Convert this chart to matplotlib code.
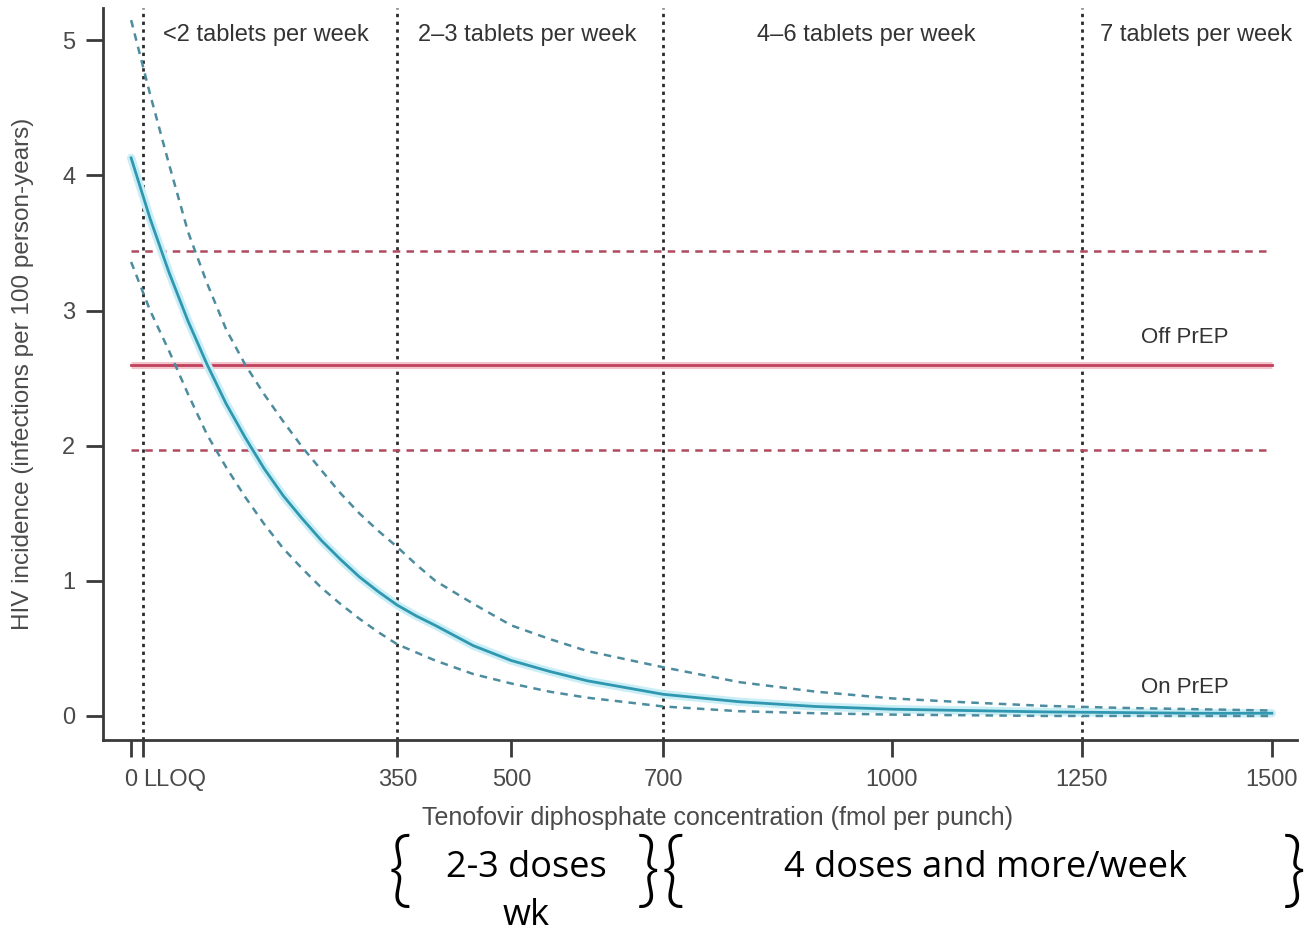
import matplotlib
matplotlib.use("Agg")
import matplotlib.pyplot as plt

# ---------------- data ----------------
conc = [0, 25, 50, 75, 100, 125, 150, 175, 200, 225, 250, 275, 300, 325, 350,
        375, 400, 450, 500, 550, 600, 700, 800, 900, 1000, 1100, 1200, 1300,
        1400, 1500]
on_prep = [4.13, 3.68, 3.28, 2.92, 2.60, 2.31, 2.06, 1.83, 1.63, 1.46, 1.30,
           1.16, 1.03, 0.92, 0.82, 0.74, 0.67, 0.52, 0.41, 0.33, 0.26, 0.16,
           0.105, 0.07, 0.05, 0.04, 0.03, 0.025, 0.02, 0.02]
on_prep_upper = [5.15, 4.60, 4.08, 3.58, 3.20, 2.86, 2.60, 2.38, 2.18, 1.99,
                 1.82, 1.65, 1.50, 1.37, 1.25, 1.12, 1.00, 0.83, 0.67, 0.57,
                 0.48, 0.36, 0.25, 0.18, 0.13, 0.10, 0.075, 0.06, 0.05, 0.04]
on_prep_lower = [3.36, 3.00, 2.70, 2.38, 2.08, 1.84, 1.62, 1.42, 1.24, 1.09,
                 0.95, 0.83, 0.72, 0.62, 0.53, 0.47, 0.41, 0.31, 0.24, 0.18,
                 0.135, 0.07, 0.035, 0.02, 0.01, 0.005, 0.0, 0.0, 0.0, 0.0]

off_prep = 2.60
off_prep_ci = [1.97, 3.44]
off_range = [0, 1500]

lloq = 16
region_bounds = [lloq, 350, 700, 1250]
region_labels = ["<2 tablets per week", "2\u20133 tablets per week",
                 "4\u20136 tablets per week", "7 tablets per week"]
region_label_x = [42, 377, 823, 1274]

xtick_vals = [0, lloq, 350, 500, 700, 1000, 1250, 1500]
xtick_labels = ["0", "LLOQ", "350", "500", "700", "1000", "1250", "1500"]
ytick_vals = [0, 1, 2, 3, 4, 5]

xlabel = "Tenofovir diphosphate concentration (fmol per punch)"
ylabel = "HIV incidence (infections per 100 person-years)"

# ---------------- fonts ----------------
chart_font = ["Liberation Sans Narrow", "Liberation Sans", "DejaVu Sans"]
note_font = ["Open Sans", "DejaVu Sans"]
brace_font = ["Lato", "DejaVu Sans"]

# ---------------- figure ----------------
fig = plt.figure(figsize=(13.07, 9.36), dpi=100)
ax = fig.add_axes([0.0788, 0.2094, 0.9135, 0.7821])

ax.set_xlim(-37, 1533)
ax.set_ylim(-0.178, 5.24)

grey_txt = "#4a4a4a"
teal = "#2f97b0"
teal_ci = "#4d8c9e"
red = "#c2405c"
red_ci = "#b04a5e"

# vertical dotted lines
for xb in region_bounds:
    ax.axvline(xb, color="#2b2b2b", lw=2.0, ls=(0, (1.2, 1.6)), zorder=2)

# off PrEP lines
ax.plot(off_range, [off_prep, off_prep], color="#f2c4cc", lw=5, zorder=3,
        solid_capstyle="butt")
ax.plot(off_range, [off_prep, off_prep], color=red, lw=2, zorder=4)
for v in off_prep_ci:
    ax.plot(off_range, [v, v], color=red_ci, lw=1.8, ls=(0, (3, 2.5)), zorder=3)

# on PrEP curves
ax.plot(conc, on_prep, color="#c9eef6", lw=6, zorder=4, solid_capstyle="round")
ax.plot(conc, on_prep, color=teal, lw=2, zorder=5)
ax.plot(conc, on_prep_upper, color=teal_ci, lw=1.8, ls=(0, (3, 2.5)), zorder=5)
ax.plot(conc, on_prep_lower, color=teal_ci, lw=1.8, ls=(0, (3, 2.5)), zorder=5)

# labels inside plot
ax.text(1385, off_prep + 0.12, "Off PrEP", ha="center", va="bottom",
        fontsize=16, color="#333333", family=chart_font)
ax.text(1385, 0.13, "On PrEP", ha="center", va="bottom",
        fontsize=16, color="#333333", family=chart_font)
for xl, lab in zip(region_label_x, region_labels):
    ax.text(xl, 5.04, lab, ha="left", va="center", fontsize=17,
            color="#333333", family=chart_font)

# axes styling
for s in ["top", "right"]:
    ax.spines[s].set_visible(False)
for s in ["left", "bottom"]:
    ax.spines[s].set_linewidth(2)
    ax.spines[s].set_color("#3a3a3a")

ax.set_xticks(xtick_vals)
ax.set_xticklabels(xtick_labels, family=chart_font, fontsize=17, color=grey_txt)
ax.set_yticks(ytick_vals)
ax.set_yticklabels([str(v) for v in ytick_vals], family=chart_font,
                   fontsize=17, color=grey_txt)
ax.tick_params(axis="x", length=12, width=2, color="#3a3a3a", pad=9)
ax.tick_params(axis="y", length=12, width=2, color="#3a3a3a", pad=8)
tl = ax.get_xticklabels()
tl[0].set_ha("center")
tl[1].set_ha("left")

ax.set_xlabel(xlabel, family=chart_font, fontsize=18, color=grey_txt, labelpad=11)
ax.xaxis.label.set_x(0.515)
ax.set_ylabel(ylabel, family=chart_font, fontsize=17.5, color=grey_txt, labelpad=20)

# bottom annotations with braces
brace_kw = dict(fontsize=60, ha="center", va="center", family=brace_font,
                fontweight=300, color="black")
fig.text(400 / 1307, 1 - 874 / 936, "{", **brace_kw)
fig.text(648 / 1307, 1 - 874 / 936, "}", **brace_kw)
fig.text(673 / 1307, 1 - 874 / 936, "{", **brace_kw)
fig.text(1294 / 1307, 1 - 874 / 936, "}", **brace_kw)
fig.text(526 / 1307, 1 - 850 / 936, "2-3 doses\nwk", fontsize=26, ha="center",
         va="top", family=note_font, linespacing=1.45, color="black")
fig.text(985 / 1307, 1 - 868 / 936, "4 doses and more/week", fontsize=26,
         ha="center", va="center", family=note_font, color="black")

fig.savefig("out.png", dpi=100, facecolor="white")
